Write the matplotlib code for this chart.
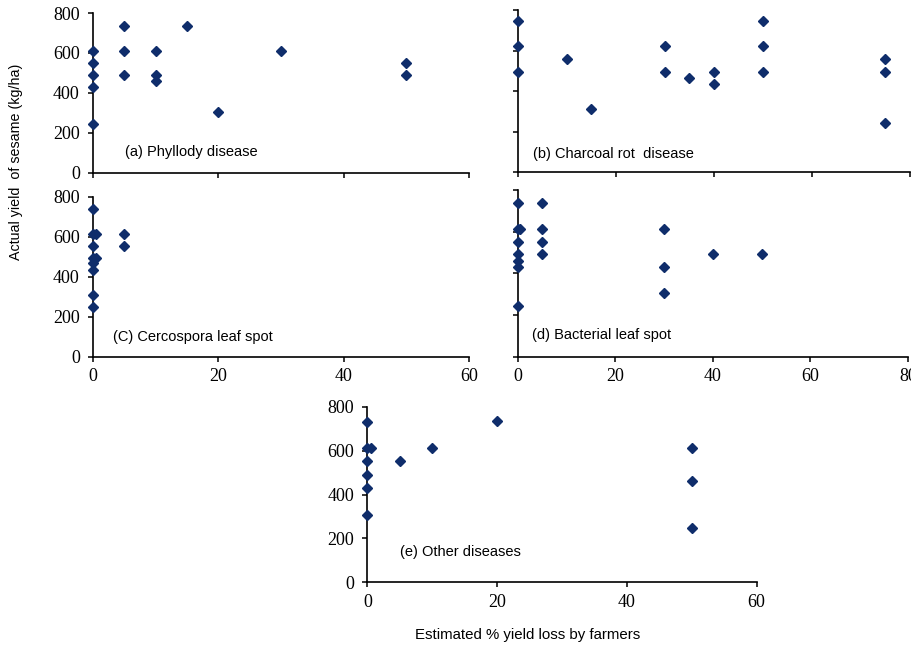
import matplotlib
matplotlib.use('Agg')
import matplotlib.pyplot as plt

# data (x = estimated % loss, y = yield kg/ha)
phyllody_x = [0, 0, 0, 0, 0, 5, 5, 5, 10, 10, 10, 15, 20, 30, 50, 50]
phyllody_y = [610, 551, 490, 429, 245, 735, 612, 490, 612, 490, 459, 735, 306, 612, 551, 490]

charcoal_x = [0, 0, 0, 10, 15, 30, 30, 35, 40, 40, 50, 50, 50, 75, 75, 75]
charcoal_y = [746, 623, 496, 557, 311, 623, 496, 466, 496, 435, 746, 623, 496, 557, 496, 245]

cercospora_x = [0, 0, 0.5, 0, 0, 0.5, 0, 0, 0, 0, 5, 5]
cercospora_y = [737, 613, 613, 554, 492, 492, 467, 434, 308, 250, 613, 554]

bacterial_x = [0, 0, 0.5, 0, 0, 0, 0, 0, 5, 5, 5, 5, 30, 30, 30, 40, 50]
bacterial_y = [736, 611, 611, 552, 491, 460, 429, 243, 736, 611, 552, 491, 611, 429, 304, 491, 491]

other_x = [0, 0, 0.5, 0, 0, 0, 0, 5, 10, 20, 50, 50, 50]
other_y = [732, 613, 613, 553, 489, 428, 307, 553, 613, 735, 613, 461, 246]

y_ticks = [0, 200, 400, 600, 800]

MARK = '#0f2d6b'
SERIF = 'Liberation Serif'
SANS = 'Liberation Sans'


def style_axis(ax, xmax, xstep, show_x, show_y):
    ax.set_xlim(0, xmax)
    ax.set_ylim(0, 800)
    ax.set_xticks(range(0, xmax + 1, xstep))
    ax.set_yticks(y_ticks)
    for s in ['top', 'right']:
        ax.spines[s].set_visible(False)
    for s in ['left', 'bottom']:
        ax.spines[s].set_linewidth(1.2)
        ax.spines[s].set_color('black')
    ax.tick_params(direction='out', length=3.5, width=1.1, pad=5,
                   labelsize=13, colors='black')
    ax.tick_params(axis='y', pad=6)
    for lab in ax.get_xticklabels() + ax.get_yticklabels():
        lab.set_fontfamily(SERIF)
    if not show_x:
        ax.set_xticklabels([])
    if not show_y:
        ax.set_yticklabels([])
    ax.patch.set_alpha(0)


fig = plt.figure(figsize=(9.11, 6.45), dpi=100)

panels = [
    # pos, x, y, xmax, label, label pos, show x labels, show y labels
    ([0.1021, 0.7322, 0.4127, 0.2476], phyllody_x, phyllody_y, 60,
     '(a) Phyllody disease', (0.085, 0.13), False, True),
    ([0.5686, 0.7329, 0.4303, 0.2516], charcoal_x, charcoal_y, 80,
     '(b) Charcoal rot  disease', (0.039, 0.113), False, False),
    ([0.1021, 0.4470, 0.4127, 0.2481], cercospora_x, cercospora_y, 60,
     '(C) Cercospora leaf spot', (0.053, 0.125), True, True),
    ([0.5686, 0.4470, 0.4281, 0.2584], bacterial_x, bacterial_y, 80,
     '(d) Bacterial leaf spot', (0.035, 0.13), True, False),
    ([0.4032, 0.0972, 0.4274, 0.2722], other_x, other_y, 60,
     '(e) Other diseases', (0.084, 0.174), True, True),
]

for pos, xs, ys, xmax, label, lpos, sx, sy in panels:
    ax = fig.add_axes(pos)
    ax.plot(xs, ys, linestyle='none', marker='D', markersize=5,
            color=MARK, clip_on=False, zorder=3)
    style_axis(ax, xmax, 20, sx, sy)
    ax.text(lpos[0], lpos[1], label, transform=ax.transAxes, fontsize=10.5,
            fontfamily=SANS, va='center', ha='left')

fig.text(16 / 911, 1 - 162 / 645, 'Actual yield  of sesame (kg/ha)',
         rotation=90, fontsize=10.3, fontfamily=SANS, va='center', ha='center')
fig.text(527.5 / 911, 1 - 635 / 645, 'Estimated % yield loss by farmers',
         fontsize=10.8, fontfamily=SANS, va='center', ha='center')

fig.savefig('out.png', dpi=100)
